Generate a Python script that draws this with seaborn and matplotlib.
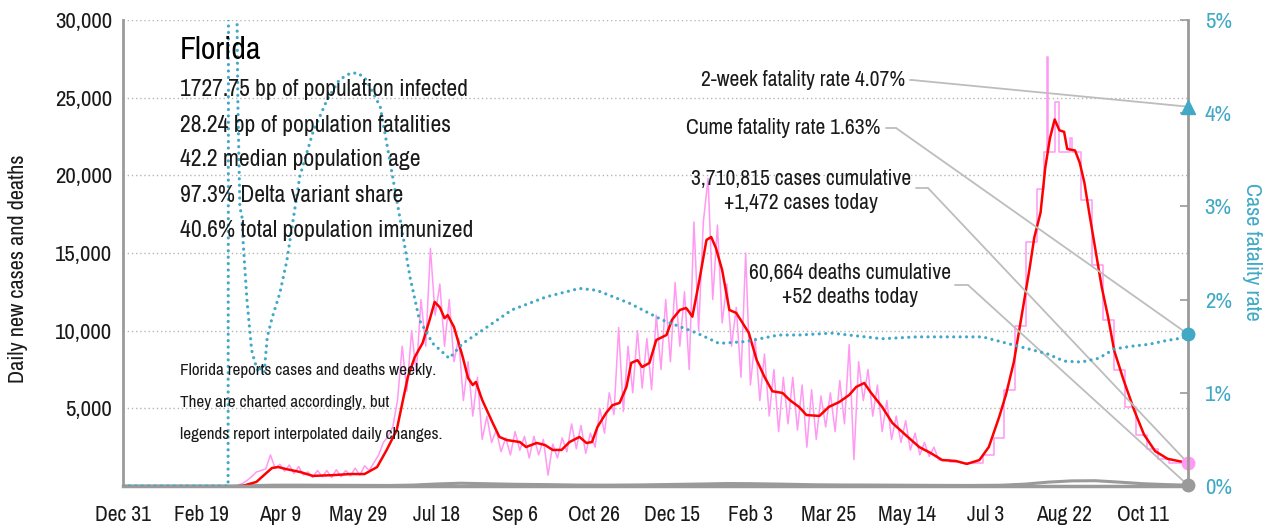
import pandas as pd
import numpy as np
import seaborn as sns
import matplotlib.pyplot as plt
import matplotlib.lines as mlines

# --- data (days since 2019-12-31) ---
start = pd.Timestamp('2019-12-31')

red_days = [74, 76, 85, 90, 95, 99, 104, 113, 121, 134, 145, 154, 162, 168, 174.5, 178.5,
            181.6, 186, 191, 195.5, 198.7, 202, 205, 207, 211, 216.6, 220, 223, 225, 229,
            235.7, 240, 244.6, 253, 257, 263.7, 269, 274, 279.6, 284.7, 291, 295.5, 299,
            302.5, 308, 312, 316.6, 321, 324, 328, 331, 335.6, 340, 346.5, 350, 355, 359,
            361, 363, 367.5, 372, 375, 378, 382, 386.6, 391, 395, 399, 404, 409, 414, 420.5,
            425, 431, 435.7, 444, 450, 456.7, 463, 467.5, 472.6, 477, 484, 490.5, 499, 507.6,
            515, 522.3, 531, 538, 546, 552, 558.6, 563, 568, 573, 578, 581, 585, 588, 591,
            594, 597, 600, 602, 607, 610, 613, 616, 620, 624, 628, 632, 638, 645, 651, 658,
            666, 679]
red_vals = [0, 0, 260, 710, 1160, 1220, 1090, 900, 650, 700, 770, 770, 1220, 2300, 3600, 5540,
            7020, 8300, 9200, 10700, 11850, 11500, 10800, 11000, 10240, 8300, 6950, 6500, 6700, 5540,
            4060, 3160, 2960, 2830, 2510, 2770, 2640, 2320, 2320, 2830, 3160, 2770, 2830,
            3800, 4700, 5200, 5350, 6380, 7920, 8100, 7660, 7920, 9400, 9720, 10700, 11330, 11460,
            11200, 10900, 13270, 15840, 16030, 15330, 13900, 11330, 11140, 10500, 9850, 8110, 7020, 6100, 5990,
            5540, 5090, 4570, 4510, 5090, 5410, 5860, 6380, 6630, 5990, 5090, 4060, 3280, 2510,
            2120, 1670, 1610, 1420, 1670, 2510, 4440, 5900, 8000, 11000, 14000, 16000, 17600, 20500, 22400,
            23600, 22900, 22800, 21700, 21600, 20800, 19500, 17600, 15200, 12800, 10900, 8700, 6800, 4800, 3300, 2250,
            1750, 1480]

# raw daily cases, sampled every 3 days from day 73 to day 520
pink_days = list(range(73, 521, 3))
pink_vals = [50, 150, 350, 600, 900, 1000, 1100, 2000, 1150, 1400,
             950, 1350, 800, 1250, 700, 900, 550, 1000, 600, 1000,
             550, 1050, 600, 1000, 650, 1150, 700, 1300, 1000, 1500,
             2000, 2800, 3200, 3800, 5500, 9000, 6100, 10000, 7300, 12000,
             9000, 15300, 11000, 13000, 9000, 12000, 8000, 9500, 5500, 8000,
             4500, 7000, 3000, 4500, 2800, 3600, 2200, 3100, 2000, 3500,
             2300, 3200, 1800, 3200, 2000, 3000, 700, 2700, 1800, 3100,
             2200, 4000, 2400, 3900, 2100, 3400, 2500, 5000, 3400, 6000,
             4600, 10200, 4800, 9000, 6000, 10000, 6300, 9500, 6200, 11000,
             7500, 12000, 8000, 13100, 9000, 12500, 7500, 17000, 10000, 17000,
             19800, 12000, 16800, 10500, 13000, 9000, 11500, 7000, 15000, 6500,
             9500, 5500, 8500, 4500, 7500, 3500, 7000, 4000, 7000, 3600,
             6500, 2500, 6200, 3000, 5800, 3800, 6000, 3500, 6800, 4000,
             9100, 1700, 8000, 5500, 7500, 4500, 6500, 3500, 5500, 3000,
             4500, 2800, 4200, 2300, 3400, 2000, 2800, 1900, 2500, 1700]

# weekly reported cases (step values)
step_days = [520, 527, 534, 541, 548, 555, 562, 569, 576, 583, 587, 589, 590, 594,
             597, 604, 605, 611, 618, 625, 632, 639, 646, 653, 660, 667, 674, 679]
step_vals = [1700, 1550, 1450, 1500, 2000, 3100, 6200, 10300, 15700, 19100, 21500, 27600, 21500, 24700,
             21500, 22400, 21500, 18400, 14200, 10700, 7500, 5100, 3300, 2400, 1740, 1470, 1470, 1470]

death_days = [0, 70, 80, 95, 110, 130, 150, 170, 185, 200, 215, 230, 250, 270, 290, 310, 330, 350,
              370, 385, 400, 420, 440, 460, 480, 500, 520, 540, 560, 575, 590, 605, 620, 635, 650, 665, 679]
death_vals = [0, 0, 20, 50, 55, 45, 40, 35, 60, 130, 180, 150, 110, 90, 60, 55, 70, 100,
              130, 160, 150, 120, 80, 65, 60, 50, 40, 35, 50, 120, 250, 330, 340, 250, 150, 90, 52]

cfr_days = [0, 67, 67.6, 72, 72.6, 73.2, 74.5, 75.8, 76.5, 79, 82, 84, 86.5, 88.5, 90, 92, 95, 100,
            104.5, 112.7, 121, 130, 138, 145, 150, 155, 164, 170, 176, 183, 189, 197.5, 208, 216.6,
            229, 248, 270, 291, 302, 323, 344, 366, 380, 397, 418, 431, 452, 484, 506, 548, 566,
            589, 600, 611, 622, 632, 643, 654, 665, 676, 679]
cfr_vals = [0, 0, 12, 12, 5.2, 4.14, 2.99, 2.9, 2.64, 2.0, 1.46, 1.33, 1.22, 1.30, 1.22, 1.6, 1.8, 2.07,
            2.42, 3.32, 3.79, 4.14, 4.36, 4.43, 4.43, 4.36, 4.07, 3.5, 2.93, 2.24, 1.78, 1.53, 1.37, 1.53,
            1.67, 1.89, 2.03, 2.12, 2.10, 1.96, 1.78, 1.64, 1.53, 1.55, 1.62, 1.62, 1.64, 1.58, 1.60, 1.60, 1.52,
            1.42, 1.34, 1.33, 1.37, 1.47, 1.50, 1.52, 1.56, 1.59, 1.63]

last_day = 679
cases_today = 1472
deaths_today = 52
cfr_2week = 4.07
cfr_cume = 1.63

stats = ['1727.75 bp of population infected',
         '28.24 bp of population fatalities',
         '42.2 median population age',
         '97.3% Delta variant share',
         '40.6% total population immunized']
notes = ['Florida reports cases and deaths weekly.',
         'They are charted accordingly, but',
         'legends report interpolated daily changes.']


def to_dates(days):
    return start + pd.to_timedelta(np.asarray(days, dtype=float), unit='D')


RED = '#ff0000'
PINK = '#ff99f2'
TEAL = '#41a9c6'
GRAY = '#9a9a9a'
LINE = '#bdbdbd'
INK = '#1a1a1a'

sns.set_style('white')
plt.rcParams['font.family'] = ['Archivo Narrow', 'Barlow Semi Condensed', 'DejaVu Sans']

W, H = 1268, 527
fig = plt.figure(figsize=(W / 100, H / 100), dpi=100)
ax = fig.add_axes([123 / W, 1 - 486 / H, (1188 - 123) / W, (486 - 20) / H])
ax2 = ax.twinx()


def P(x, y):
    return x / W, 1 - y / H


sns.lineplot(x=to_dates(pink_days), y=pink_vals, ax=ax, color=PINK, lw=1.1,
             estimator=None, sort=False)
sns.lineplot(x=to_dates(step_days), y=step_vals, ax=ax, color=PINK, lw=1.1,
             estimator=None, sort=False, drawstyle='steps-post')
sns.lineplot(x=to_dates(death_days), y=death_vals, ax=ax, color=GRAY, lw=2.2,
             estimator=None, sort=False)
sns.lineplot(x=to_dates(red_days), y=red_vals, ax=ax, color=RED, lw=1.8,
             estimator=None, sort=False)
sns.lineplot(x=to_dates(cfr_days), y=cfr_vals, ax=ax2, color=TEAL, lw=2.3,
             estimator=None, sort=False, linestyle=(0, (0.01, 2.0)),
             dash_capstyle='round')

end = to_dates([last_day])[0]
ax.plot([end], [cases_today], 'o', color=PINK, ms=9, clip_on=False, zorder=5)
ax.plot([end], [deaths_today], 'o', color=GRAY, ms=9, clip_on=False, zorder=5)
ax2.plot([end], [cfr_cume], 'o', color=TEAL, ms=9, clip_on=False, zorder=5)
ax2.plot([end], [cfr_2week], '^', color=TEAL, ms=10, clip_on=False, zorder=5)

# axes styling
ax.set_xlim(start, end)
ax.set_ylim(0, 30000)
ax2.set_ylim(0, 5)
xt = pd.date_range(start, periods=14, freq='50D')
ax.set_xticks(xt)
ax.set_xticklabels([f'{d:%b} {d.day}' for d in xt], fontsize=15.5, color=INK)
ax.set_yticks(range(5000, 30001, 5000))
ax.set_yticklabels([f'{v:,}' for v in range(5000, 30001, 5000)], fontsize=16.5, color=INK)
ax.tick_params(axis='y', length=0, pad=8)
ax.tick_params(axis='x', length=8, width=1.2, color=GRAY, pad=6)
ax.yaxis.grid(True, color='#b5b5b5', lw=1, linestyle=(0, (1, 2)))
ax.xaxis.grid(False)
ax.set_axisbelow(True)
ax.set_xlabel('')
ax.set_ylabel('')
ax2.set_yticks(range(0, 6))
ax2.set_yticklabels([f'{v}%' for v in range(0, 6)], fontsize=16.5, color=TEAL)
ax2.tick_params(axis='y', direction='in', length=6, width=1.2, color=GRAY, pad=12)
ax2.set_ylabel('')
ax2.grid(False)

for a in (ax, ax2):
    a.spines['top'].set_visible(False)
ax.spines['right'].set_visible(False)
ax2.spines['left'].set_visible(False)
ax2.spines['bottom'].set_visible(False)
ax.spines['left'].set_color(GRAY)
ax.spines['left'].set_linewidth(2)
ax.spines['bottom'].set_color(GRAY)
ax.spines['bottom'].set_linewidth(2.5)
ax2.spines['right'].set_color(GRAY)
ax2.spines['right'].set_linewidth(2)

# texts
fig.text(*P(18, 269), 'Daily new cases and deaths', rotation=90, va='center', ha='center',
         fontsize=16, color=INK)
fig.text(*P(1252, 252), 'Case fatality rate', rotation=270, va='center', ha='center',
         fontsize=16, color=TEAL)
fig.text(*P(180, 50), 'Florida', fontsize=23, fontweight=500, va='center', ha='left', color='#000000')
for i, s in enumerate(stats):
    fig.text(*P(180, 90 + i * 35), s, fontsize=17, va='center', ha='left', color=INK)
for i, s in enumerate(notes):
    fig.text(*P(180, 370 + i * 32.5), s, fontsize=12.3, va='center', ha='left', color=INK)

fig.text(*P(905, 80), f'2-week fatality rate {cfr_2week}%', fontsize=15.5, ha='right', va='center', color=INK)
fig.text(*P(880, 128), f'Cume fatality rate {cfr_cume}%', fontsize=15.5, ha='right', va='center', color=INK)
fig.text(*P(801, 191), f'3,710,815 cases cumulative\n+{cases_today:,} cases today', fontsize=15.5,
         ha='center', va='center', multialignment='center', linespacing=1.3, color=INK)
fig.text(*P(850, 285), f'60,664 deaths cumulative\n+{deaths_today} deaths today', fontsize=15.5,
         ha='center', va='center', multialignment='center', linespacing=1.3, color=INK)


def connector(x0, y0, x1, a, yv):
    fig.add_artist(mlines.Line2D([x0 / W, x1 / W], [1 - y0 / H, 1 - y0 / H],
                                 color=LINE, lw=1.3, transform=fig.transFigure))
    a.annotate('', xy=(end, yv), xycoords='data', xytext=P(x1, y0), textcoords='figure fraction',
               arrowprops=dict(arrowstyle='-', color=LINE, lw=1.3, shrinkA=0, shrinkB=0))


connector(910, 80, 912, ax2, cfr_2week)
connector(886, 128, 896, ax2, cfr_cume)
connector(916, 188, 928, ax, cases_today)
connector(955, 285, 968, ax, deaths_today)

fig.savefig('out.png', dpi=100)
